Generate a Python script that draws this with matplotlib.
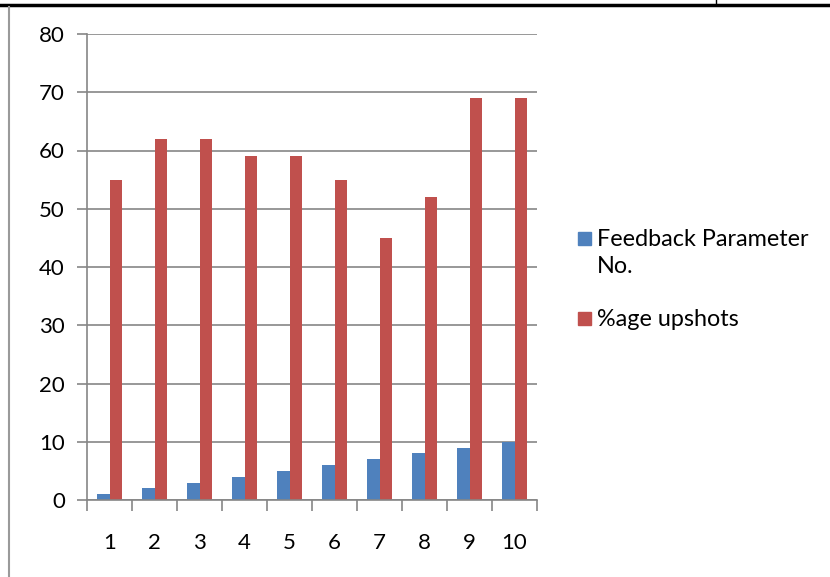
import numpy as np
import matplotlib.pyplot as plt
from matplotlib.patches import Rectangle
from matplotlib.lines import Line2D

categories = ['1', '2', '3', '4', '5', '6', '7', '8', '9', '10']
feedback_no = [1, 2, 3, 4, 5, 6, 7, 8, 9, 10]
upshots = [55, 62, 62, 59, 59, 55, 45, 52, 69, 69]
series_labels = ['Feedback Parameter\nNo.', '%age upshots']

blue = '#4F81BD'
red = '#C0504D'
grid_c = '#868686'

plt.rcParams['font.family'] = ['Lato', 'DejaVu Sans']

W, H = 830, 577
fig = plt.figure(figsize=(W / 100, H / 100), dpi=100)
# axes: left 87px, right 537px, top 34px, bottom 500px
ax = fig.add_axes([87 / W, 1 - 500 / H, 450 / W, 466 / H])

x = np.arange(len(categories))
w = 0.286
ax.bar(x - w / 2, feedback_no, w, color=blue)
ax.bar(x + w / 2, upshots, w, color=red)

ax.set_xlim(-0.5, len(categories) - 0.5)
ax.set_ylim(0, 80)
ax.set_yticks(range(0, 81, 10))
ax.yaxis.grid(True, color=grid_c, linewidth=1.2)
ax.set_axisbelow(True)

for s in ['top', 'right']:
    ax.spines[s].set_visible(False)
for s in ['left', 'bottom']:
    ax.spines[s].set_color(grid_c)
    ax.spines[s].set_linewidth(1.2)

ax.set_xticks(x)
ax.set_xticklabels(categories)
ax.tick_params(axis='x', length=0, pad=24, labelsize=16)
ax.set_xticks(np.arange(-0.5, len(categories), 1), minor=True)
ax.tick_params(axis='x', which='minor', length=8, color=grid_c, width=1.2)
ax.tick_params(axis='y', length=7, color=grid_c, width=1.2, labelsize=16, pad=9)

# legend drawn by hand (square next to first line of text)
for (c, lab, ytop) in [(blue, series_labels[0], 232), (red, series_labels[1], 312)]:
    fig.add_artist(Rectangle((578 / W, 1 - (ytop + 13) / H), 13 / W, 13 / H,
                             color=c, transform=fig.transFigure))
    fig.text(597 / W, 1 - (ytop - 3) / H, lab, fontsize=16.8, va='top', ha='left',
             linespacing=1.35)

# page lines around the chart
fig.add_artist(Line2D([0, 1], [1 - 5 / H, 1 - 5 / H], color='black', lw=2.5))
fig.add_artist(Line2D([716 / W, 716 / W], [1, 1 - 5 / H], color='black', lw=1))
fig.add_artist(Line2D([9 / W, 9 / W], [1 - 7 / H, 0], color='#9a9a9a', lw=1.5))

fig.savefig('out.png', dpi=100)
